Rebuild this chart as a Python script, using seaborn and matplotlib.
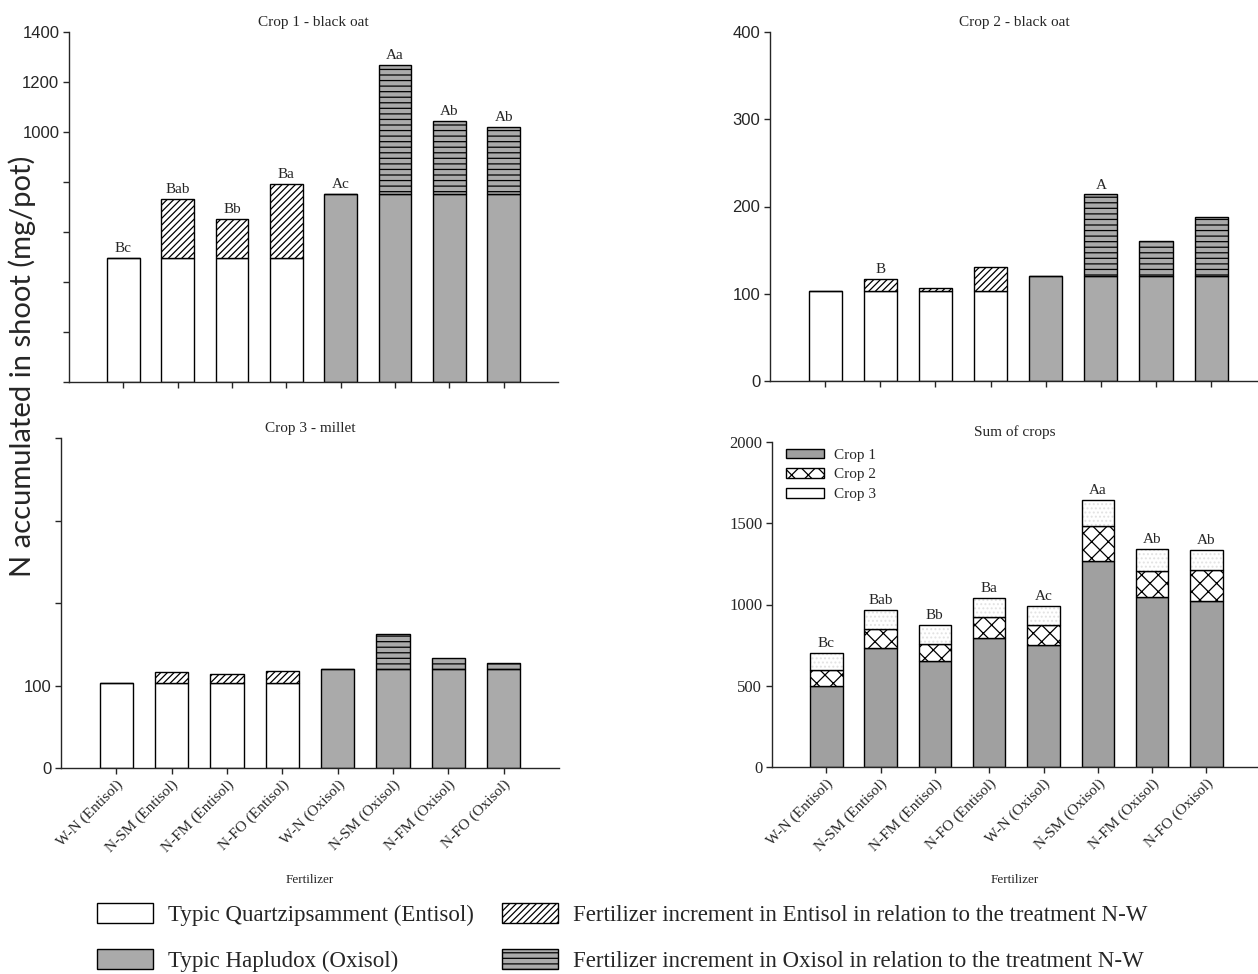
import numpy as np
import pandas as pd
import seaborn as sns
import matplotlib.pyplot as plt
from matplotlib.patches import Patch

# treatments (x categories) and soil of each treatment
treatments = ["W-N (Entisol)", "N-SM (Entisol)", "N-FM (Entisol)", "N-FO (Entisol)",
              "W-N (Oxisol)", "N-SM (Oxisol)", "N-FM (Oxisol)", "N-FO (Oxisol)"]
soils = ["Entisol"] * 4 + ["Oxisol"] * 4

# N accumulated in shoot (mg/pot)
crop1 = [496, 734, 653, 792, 752, 1269, 1046, 1022]
crop2 = [103, 117, 107, 131, 120, 214, 161, 188]
crop3 = [103, 116, 114, 118, 120, 163, 133, 127]

letters_crop1 = ["Bc", "Bab", "Bb", "Ba", "Ac", "Aa", "Ab", "Ab"]
letters_crop2 = ["", "B", "", "", "", "A", "", ""]
letters_crop3 = [""] * 8
letters_sum = ["Bc", "Bab", "Bb", "Ba", "Ac", "Aa", "Ab", "Ab"]

GRAY = "#aaaaaa"
GRAY_SUM = "#a0a0a0"
SERIF = ["Liberation Serif", "DejaVu Serif"]
SANS = ["Liberation Sans", "DejaVu Sans"]

sns.set_style("ticks")
plt.rcParams["font.family"] = SERIF
plt.rcParams["hatch.linewidth"] = 0.9
plt.rcParams["axes.linewidth"] = 1.0

W, H = 1258, 974
fig = plt.figure(figsize=(W / 100, H / 100), dpi=100)


def add_ax(left, right, top, bottom):
    return fig.add_axes([left / W, 1 - bottom / H, (right - left) / W, (bottom - top) / H])


def style_axis(ax, title, ymax, step, shown, xmax, tick_font, tick_size, show_x):
    ax.set_xlim(-1, xmax)
    ax.set_ylim(0, ymax)
    ticks = np.arange(0, ymax + 1, step)
    ax.set_yticks(ticks)
    ax.set_yticklabels([str(t) if t in shown else "" for t in ticks],
                       family=tick_font, fontsize=tick_size)
    ax.tick_params(axis="both", direction="out", length=4, width=1.0, pad=3)
    ax.set_xticks(range(len(treatments)))
    if show_x:
        ax.set_xticklabels(treatments, rotation=45, ha="right", rotation_mode="anchor",
                           fontsize=11, family=SERIF)
    else:
        ax.set_xticklabels([])
    ax.set_xlabel("")
    ax.set_ylabel("")
    ax.set_title(title, fontsize=11, pad=4)
    sns.despine(ax=ax)


def add_letters(ax, totals, letters):
    for i, (v, lab) in enumerate(zip(totals, letters)):
        if lab:
            ax.annotate(lab, (i, v), xytext=(0, 2), textcoords="offset points",
                        ha="center", va="bottom", fontsize=11)


def draw_crop(ax, values, letters):
    df = pd.DataFrame({"trt": treatments, "soil": soils, "value": values})
    df["base"] = df.groupby("soil")["value"].transform("first")
    df["inc"] = df["value"] - df["base"]
    for soil, fill, hatch in [("Entisol", "white", "/////"), ("Oxisol", GRAY, "---")]:
        sub = df[df["soil"] == soil]
        sns.barplot(data=sub, x="trt", y="base", order=treatments, color=fill,
                    saturation=1, width=0.6, errorbar=None, edgecolor="black",
                    linewidth=1.0, ax=ax)
        sns.barplot(data=sub, x="trt", y="inc", order=treatments, color=fill,
                    saturation=1, width=0.6, errorbar=None, edgecolor="black",
                    linewidth=1.0, hatch=hatch, bottom=sub["base"].values, ax=ax)
    add_letters(ax, values, letters)


# Crop 1
ax1 = add_ax(69, 558, 32, 382)
draw_crop(ax1, crop1, letters_crop1)
style_axis(ax1, "Crop 1 - black oat", 1400, 200, [1000, 1200, 1400], 8, SANS, 12, False)

# Crop 2
ax2 = add_ax(770, 1258, 32, 381)
draw_crop(ax2, crop2, letters_crop2)
style_axis(ax2, "Crop 2 - black oat", 400, 100, [0, 100, 200, 300, 400], 7.85, SANS, 12, False)

# Crop 3
ax3 = add_ax(61, 559, 438, 768)
draw_crop(ax3, crop3, letters_crop3)
style_axis(ax3, "Crop 3 - millet", 400, 100, [0, 100], 8, SANS, 12, True)

# Sum of crops
ax4 = add_ax(772, 1258, 442, 767)
sum_df = pd.DataFrame({"trt": treatments, "c1": crop1, "c2": crop2, "c3": crop3})
c12 = np.add(crop1, crop2)
bar_kw = dict(x="trt", order=treatments, saturation=1, width=0.6, errorbar=None, ax=ax4)
sns.barplot(data=sum_df, y="c1", color=GRAY_SUM, edgecolor="black", linewidth=1.0, **bar_kw)
sns.barplot(data=sum_df, y="c2", color="white", edgecolor="black", linewidth=1.0,
            hatch="xx", bottom=crop1, **bar_kw)
sns.barplot(data=sum_df, y="c3", color="white", edgecolor="#e2e2e2", linewidth=0,
            hatch="....", bottom=c12, **bar_kw)
sns.barplot(data=sum_df, y="c3", color="white", facecolor="none", edgecolor="black",
            linewidth=1.0, bottom=c12, **bar_kw)
add_letters(ax4, c12 + np.array(crop3), letters_sum)
style_axis(ax4, "Sum of crops", 2000, 500, [0, 500, 1000, 1500, 2000], 7.95, SERIF, 12, True)
ax4.legend(handles=[Patch(facecolor=GRAY_SUM, edgecolor="black", label="Crop 1"),
                    Patch(facecolor="white", edgecolor="black", hatch="xx", label="Crop 2"),
                    Patch(facecolor="white", edgecolor="black", label="Crop 3")],
           loc="upper left", bbox_to_anchor=(0.029, 0.98), frameon=False, fontsize=11,
           handlelength=2.5, handleheight=0.6, handletextpad=0.65, labelspacing=0.42,
           borderpad=0, borderaxespad=0)

# axis labels
fig.text(22 / W, 1 - 366 / H, "N accumulated in shoot (mg/pot)", rotation=90,
         ha="center", va="center", fontsize=21, family=["Lato", "DejaVu Sans"])
fig.text(310 / W, 1 - 880 / H, "Fertilizer", ha="center", va="center", fontsize=9.5)
fig.text(1015 / W, 1 - 880 / H, "Fertilizer", ha="center", va="center", fontsize=9.5)

# bottom legend
leg_kw = dict(loc="upper left", frameon=False, fontsize=16.5, handlelength=2.45,
              handleheight=0.96, handletextpad=0.65, labelspacing=1.0,
              borderpad=0, borderaxespad=0)
fig.legend(handles=[Patch(facecolor="white", edgecolor="black",
                          label="Typic Quartzipsamment (Entisol)"),
                    Patch(facecolor=GRAY, edgecolor="black", label="Typic Hapludox (Oxisol)")],
           bbox_to_anchor=(97 / W, 1 - 903 / H), **leg_kw)
fig.legend(handles=[Patch(facecolor="white", edgecolor="black", hatch="/////",
                          label="Fertilizer increment in Entisol in relation to the treatment N-W"),
                    Patch(facecolor=GRAY, edgecolor="black", hatch="---",
                          label="Fertilizer increment in Oxisol in relation to the treatment N-W")],
           bbox_to_anchor=(502 / W, 1 - 903 / H), **leg_kw)

fig.savefig("out.png", dpi=100)
